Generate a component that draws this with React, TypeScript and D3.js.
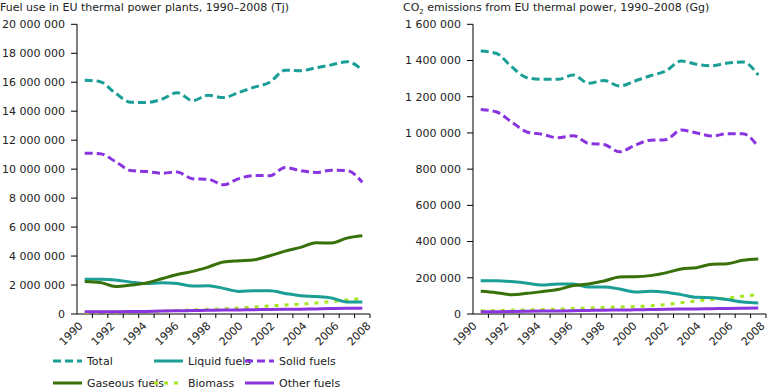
import React, { useEffect, useRef } from "react";
import * as d3 from "d3";

const years = d3.range(1990, 2009).map(String);
const fuelTicks = [0, 2e6, 4e6, 6e6, 8e6, 10e6, 12e6, 14e6, 16e6, 18e6, 20e6];
const co2Ticks = [0, 200e3, 400e3, 600e3, 800e3, 1000e3, 1200e3, 1400e3, 1600e3];

// Fuel use (Tj)
const fuelTotal = [16.14, 16.04, 15.24, 14.62, 14.6, 14.83, 15.28, 14.73, 15.1, 14.94, 15.3, 15.66, 16.0, 16.83, 16.8, 17.0, 17.2, 17.42, 16.85].map((v) => v * 1e6);
const fuelLiquid = [2.4, 2.4, 2.35, 2.2, 2.1, 2.15, 2.1, 1.93, 1.95, 1.77, 1.56, 1.6, 1.6, 1.42, 1.26, 1.2, 1.1, 0.83, 0.82].map((v) => v * 1e6);
const fuelSolid = [11.1, 11.07, 10.52, 9.9, 9.83, 9.72, 9.8, 9.33, 9.3, 8.92, 9.35, 9.56, 9.55, 10.11, 9.9, 9.77, 9.93, 9.9, 9.1].map((v) => v * 1e6);
const fuelGas = [2.25, 2.18, 1.9, 2.0, 2.14, 2.43, 2.73, 2.94, 3.24, 3.59, 3.67, 3.74, 4.02, 4.34, 4.6, 4.92, 4.9, 5.24, 5.4].map((v) => v * 1e6);
const fuelBio = [0.1, 0.12, 0.14, 0.16, 0.18, 0.2, 0.24, 0.28, 0.32, 0.36, 0.42, 0.48, 0.56, 0.62, 0.68, 0.76, 0.86, 0.96, 1.08].map((v) => v * 1e6);
const fuelOther = [0.15, 0.15, 0.16, 0.17, 0.18, 0.2, 0.22, 0.24, 0.26, 0.27, 0.28, 0.3, 0.31, 0.32, 0.33, 0.35, 0.38, 0.4, 0.4].map((v) => v * 1e6);

// CO2 emissions (Gg)
const co2Total = [1452, 1440, 1366, 1305, 1296, 1296, 1320, 1274, 1290, 1259, 1287, 1316, 1342, 1397, 1379, 1371, 1386, 1392, 1320].map((v) => v * 1e3);
const co2Liquid = [184, 184, 179, 170, 160, 166, 166, 149, 149, 138, 122, 125, 120, 107, 92, 90, 80, 66, 61].map((v) => v * 1e3);
const co2Solid = [1130, 1117, 1061, 1005, 992, 973, 985, 942, 936, 896, 932, 960, 963, 1016, 1000, 983, 996, 996, 923].map((v) => v * 1e3);
const co2Gas = [125, 118, 107, 114, 124, 135, 157, 166, 182, 205, 206, 212, 227, 249, 256, 275, 278, 297, 304].map((v) => v * 1e3);
const co2Bio = [18, 19, 21, 23, 25, 27, 30, 33, 36, 39, 41, 45, 52, 62, 72, 80, 88, 98, 108].map((v) => v * 1e3);
const co2Other = [12, 13, 14, 15, 16, 17, 18, 20, 21, 22, 23, 25, 26, 27, 28, 29, 31, 32, 33].map((v) => v * 1e3);

const seriesNames = ["Total", "Liquid fuels", "Solid fuels", "Gaseous fuels", "Biomass", "Other fuels"];

const TEAL = "#1a9e96";
const PURPLE = "#8a34e0";
const GREEN = "#38700a";
const LIME = "#a8e620";

const styles: Record<string, { color: string; dash: string | null }> = {
  Total: { color: TEAL, dash: "8,4" },
  "Liquid fuels": { color: TEAL, dash: null },
  "Solid fuels": { color: PURPLE, dash: "8,4" },
  "Gaseous fuels": { color: GREEN, dash: null },
  Biomass: { color: LIME, dash: "4,6" },
  "Other fuels": { color: PURPLE, dash: null },
};

const FONT = "'DejaVu Sans', Verdana, sans-serif";
const fmt = (v: number) => d3.format(",")(v).replace(/,/g, " ");

const App = () => {
  const ref = useRef<SVGSVGElement>(null);

  useEffect(() => {
    const svg = d3.select(ref.current);
    svg.selectAll("*").remove();

    const drawPanel = (
      x0: number,
      x1: number,
      titleX: number,
      title: string,
      titleSub: boolean,
      max: number,
      ticks: number[],
      labelRange: [number, number],
      data: number[][]
    ) => {
      const top = 24.3;
      const bottom = 314;
      const g = svg.append("g");

      const x = d3.scaleBand<string>().domain(years).range([x0, x1]);
      const y = d3.scaleLinear().domain([0, max]).range([bottom, top]);
      const xl = d3.scalePoint<string>().domain(years).range(labelRange);

      // title
      const t = g
        .append("text")
        .attr("x", titleX)
        .attr("y", 11)
        .attr("font-size", 11)
        .attr("fill", "#222");
      if (titleSub) {
        t.append("tspan").text("CO");
        t.append("tspan").attr("font-size", 7).attr("dy", 3).text("2");
        t.append("tspan").attr("dy", -3).text(title);
      } else {
        t.text(title);
      }

      // y axis
      g.append("line")
        .attr("x1", x0).attr("x2", x0)
        .attr("y1", top).attr("y2", bottom)
        .attr("stroke", "#000");
      ticks.forEach((v) => {
        g.append("line")
          .attr("x1", x0 - 6).attr("x2", x0)
          .attr("y1", y(v)).attr("y2", y(v))
          .attr("stroke", "#000");
        g.append("text")
          .attr("x", x0 - 12)
          .attr("y", y(v))
          .attr("dy", "0.35em")
          .attr("text-anchor", "end")
          .attr("font-size", 11)
          .attr("fill", "#222")
          .text(fmt(v));
      });

      // x axis
      g.append("line")
        .attr("x1", x0).attr("x2", x1)
        .attr("y1", bottom).attr("y2", bottom)
        .attr("stroke", "#000");
      years.forEach((yr, i) => {
        const bx = x(yr) as number;
        g.append("line")
          .attr("x1", bx + x.bandwidth()).attr("x2", bx + x.bandwidth())
          .attr("y1", bottom).attr("y2", bottom + 4)
          .attr("stroke", "#000");
        if (i % 2 === 0) {
          g.append("text")
            .attr("transform", `translate(${(xl(yr) as number) - 5},${bottom + 7}) rotate(-45)`)
            .attr("text-anchor", "end")
            .attr("dy", "0.7em")
            .attr("font-size", 11)
            .attr("fill", "#222")
            .text(yr);
        }
      });

      const line = d3
        .line<number>()
        .x((_, i) => (x(years[i]) as number) + x.bandwidth() / 2)
        .y((d) => y(d))
        .curve(d3.curveMonotoneX);

      // draw order: back to front
      const order = [4, 5, 1, 3, 2, 0];
      order.forEach((k) => {
        const s = styles[seriesNames[k]];
        g.append("path")
          .datum(data[k])
          .attr("d", line)
          .attr("fill", "none")
          .attr("stroke", s.color)
          .attr("stroke-width", 3)
          .attr("stroke-dasharray", s.dash)
          .attr("stroke-linejoin", "round");
      });
    };

    drawPanel(77, 370, 0, "Fuel use in EU thermal power plants, 1990\u20132008 (Tj)", false, 20e6, fuelTicks,
      [83, 371], [fuelTotal, fuelLiquid, fuelSolid, fuelGas, fuelBio, fuelOther]);
    drawPanel(473, 766, 403, " emissions from EU thermal power, 1990\u20132008 (Gg)", true, 1.6e6, co2Ticks,
      [477, 765], [co2Total, co2Liquid, co2Solid, co2Gas, co2Bio, co2Other]);

    // legend
    const legend = svg.append("g");
    const colX = [53, 154, 245];
    const rowY = [361, 383];
    seriesNames.forEach((name, i) => {
      const cx = colX[i % 3];
      const cy = rowY[Math.floor(i / 3)];
      const s = styles[name];
      legend.append("line")
        .attr("x1", cx).attr("x2", cx + 29)
        .attr("y1", cy).attr("y2", cy)
        .attr("stroke", s.color)
        .attr("stroke-width", 3)
        .attr("stroke-dasharray", s.dash);
      legend.append("text")
        .attr("x", cx + 34)
        .attr("y", cy)
        .attr("dy", "0.35em")
        .attr("font-size", 11)
        .attr("fill", "#222")
        .text(name);
    });
  }, []);

  return (
    <svg
      ref={ref}
      width={768}
      height={389}
      style={{ position: "absolute", left: 0, top: 0, fontFamily: FONT, background: "#fff" }}
    ></svg>
  );
};

export default App;
